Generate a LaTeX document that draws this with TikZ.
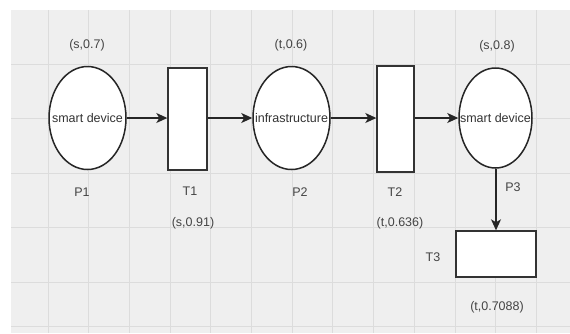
\documentclass[tikz,border=0pt]{standalone}
\usepackage{fontspec}
\setmainfont{Liberation Sans}
\usetikzlibrary{arrows.meta,shapes.geometric}
\definecolor{bgcol}{HTML}{EFEFEF}
\definecolor{gridcol}{HTML}{DCDCDC}
\definecolor{txtcol}{HTML}{333333}
\definecolor{lblcol}{HTML}{444444}
\tikzset{
  placebox/.style={ellipse, draw=black!85, line width=1.5pt, fill=white, inner sep=0pt},
  inner/.style={text=txtcol, font=\fontsize{12.5}{14}\selectfont, inner sep=0pt},
  transbox/.style={rectangle, draw=black!80, line width=1.4pt, fill=white, inner sep=0pt},
  lbl/.style={text=lblcol, font=\fontsize{12.5}{14}\selectfont, inner sep=0pt},
  arc/.style={draw=black!85, line width=1.2pt, -{Stealth[length=11pt,width=10pt,inset=3pt]}}
}
\begin{document}
\begin{tikzpicture}[x=1pt,y=-1pt]
\useasboundingbox (0,0) rectangle (570,333);
\fill[white] (0,0) rectangle (570,333);
\fill[bgcol] (11,10) rectangle (570,333);
% grid
\foreach \k in {0,...,12}{
  \draw[gridcol, line width=1pt] ({48+40.7*\k},10) -- ({48+40.7*\k},333);
}
\foreach \y in {64,118.5,173,227.5,282,326}{
  \draw[gridcol, line width=1pt] (11,\y) -- (570,\y);
}
% places
\node[placebox, minimum width=77pt, minimum height=103pt] (P1) at (87.5,118) {};
\node[placebox, minimum width=77pt, minimum height=103pt] (P2) at (291.5,118) {};
\node[placebox, minimum width=73pt, minimum height=100pt] (P3) at (495.5,118) {};
\node[inner] (P1t) at (P1.center) {smart device};
\node[inner] (P2t) at (P2.center) {infrastructure};
\node[inner] (P3t) at (P3.center) {smart device};
% transitions
\node[transbox, minimum width=39pt, minimum height=102pt] (T1) at (187.5,119) {};
\node[transbox, minimum width=37pt, minimum height=106pt] (T2) at (395.5,119) {};
\node[transbox, minimum width=80pt, minimum height=46pt] (T3) at (496,254) {};
% arcs
\draw[arc] (P1.east) -- (P1.east -| T1.west);
\draw[arc] (T1.east |- P2.west) -- (P2.west);
\draw[arc] (P2.east) -- (P2.east -| T2.west);
\draw[arc] (T2.east |- P3.west) -- (P3.west);
\draw[arc] (P3.south -| T3.north) -- (T3.north);
% labels
\node[lbl] (l1) at (87,45) {(s,0.7)};
\node[lbl] (l2) at (291,45) {(t,0.6)};
\node[lbl] (l3) at (497,46) {(s,0.8)};
\node[lbl] (n1) at (82,192) {P1};
\node[lbl] (n2) at (190,191) {T1};
\node[lbl] (n3) at (300,192) {P2};
\node[lbl] (n4) at (395,192) {T2};
\node[lbl] (n5) at (513,187) {P3};
\node[lbl] (n6) at (433,257) {T3};
\node[lbl] (l4) at (193,223) {(s,0.91)};
\node[lbl] (l5) at (400,223) {(t,0.636)};
\node[lbl] (l6) at (497,307) {(t,0.7088)};
\end{tikzpicture}
\end{document}
